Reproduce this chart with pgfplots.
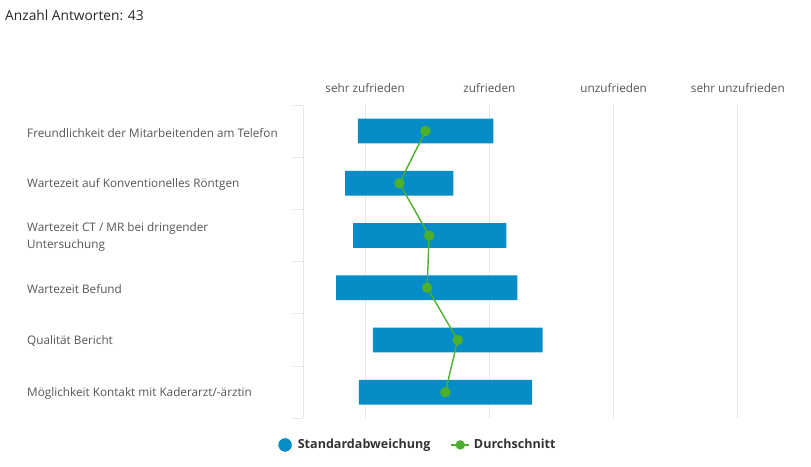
\documentclass[border=0pt]{standalone}
\usepackage{fontspec}
\setmainfont{Open Sans}
\usepackage{pgfplots}
\usepackage{pgfplotstable}
\usetikzlibrary{calc}
\pgfplotsset{compat=1.18}
\definecolor{barblue}{HTML}{068CC6}
\definecolor{meangreen}{HTML}{4DAF2E}
\definecolor{gridgray}{HTML}{E6E6E6}
\definecolor{labelgray}{HTML}{555555}
\definecolor{legendtext}{HTML}{333333}

\pgfplotstableread{
row low width mean
6 0.941 1.091 1.485
5 0.839 0.872 1.276
4 0.903 1.234 1.515
3 0.767 1.459 1.499
2 1.062 1.367 1.745
1 0.949 1.395 1.646
}\data

\begin{document}
\begin{tikzpicture}[x=1bp,y=1bp]
\begin{axis}[
  scale only axis, width=497bp, height=313.3bp,
  xmin=0.5, xmax=4.5, ymin=0.5, ymax=6.5,
  axis x line*=top, axis y line*=left,
  x axis line style={draw=none},
  y axis line style={draw=gridgray, line width=0.8bp, -},
  xtick={1,2,3,4},
  xticklabels={sehr zufrieden, zufrieden, unzufrieden, sehr unzufrieden},
  xtick style={draw=none},
  xticklabel style={anchor=center, yshift=17bp, font=\fontsize{11.8}{14}\selectfont, text=labelgray},
  xmajorgrids,
  grid style={draw=gridgray, line width=0.8bp},
  ytick={1,2,3,4,5,6},
  yticklabels={M\"oglichkeit Kontakt mit Kaderarzt/-\"arztin, Qualit\"at Bericht, Wartezeit Befund, {Wartezeit CT / MR bei dringender\\Untersuchung}, Wartezeit auf Konventionelles R\"ontgen, Freundlichkeit der Mitarbeitenden am Telefon},
  ytick style={draw=none},
  yticklabel style={anchor=west, align=left, inner sep=0pt, xshift=-276bp, yshift=-1.5bp, font=\fontsize{11.8}{16.5}\selectfont, text=labelgray},
  extra y ticks={0.5,1.5,2.5,3.5,4.5,5.5,6.5},
  extra y tick labels={},
  extra y tick style={ytick style={draw=gridgray, line width=0.8bp}, tick align=outside, major tick length=10bp},
  legend columns=2,
  legend style={draw=none, fill=none, at={(axis description cs:0.2314,-0.085)}, anchor=center,
    font=\bfseries\fontsize{12.6}{14}\selectfont, text=legendtext,
    /tikz/every even column/.append style={column sep=18bp}},
]
\coordinate (sw) at (rel axis cs:0,0);
\addplot[xbar stacked, bar width=24.7bp, draw=none, fill=none, forget plot] table[x=low, y=row] \data;
\addplot[xbar stacked, bar width=24.7bp, draw=none, fill=barblue, forget plot] table[x=width, y=row] \data;
\addlegendimage{legend image code/.code={\fill[barblue] (6.5bp,0bp) circle (6.5bp); \path (17bp,0bp);}}
\addlegendentry{Standardabweichung}
\addplot[meangreen, line width=1.4bp, mark=*, mark size=4.5bp, mark options={solid, fill=meangreen},
  legend image code/.code={\draw[meangreen, line width=1.6bp] (0bp,0bp) -- (18bp,0bp); \fill[meangreen] (9bp,0bp) circle (4bp); \path (20bp,0bp);}]
  table[x=mean, y=row] \data;
\addlegendentry{Durchschnitt}
\end{axis}
\node[anchor=west, font=\fontsize{13.8}{15}\selectfont, text=black!85, inner sep=0pt] at ($(sw)+(-298,403.3)$) {Anzahl Antworten: 43};
\pgfresetboundingbox
\useasboundingbox ($(sw)+(-303,-48.7)$) rectangle ($(sw)+(508,418.3)$);
\end{tikzpicture}
\end{document}
